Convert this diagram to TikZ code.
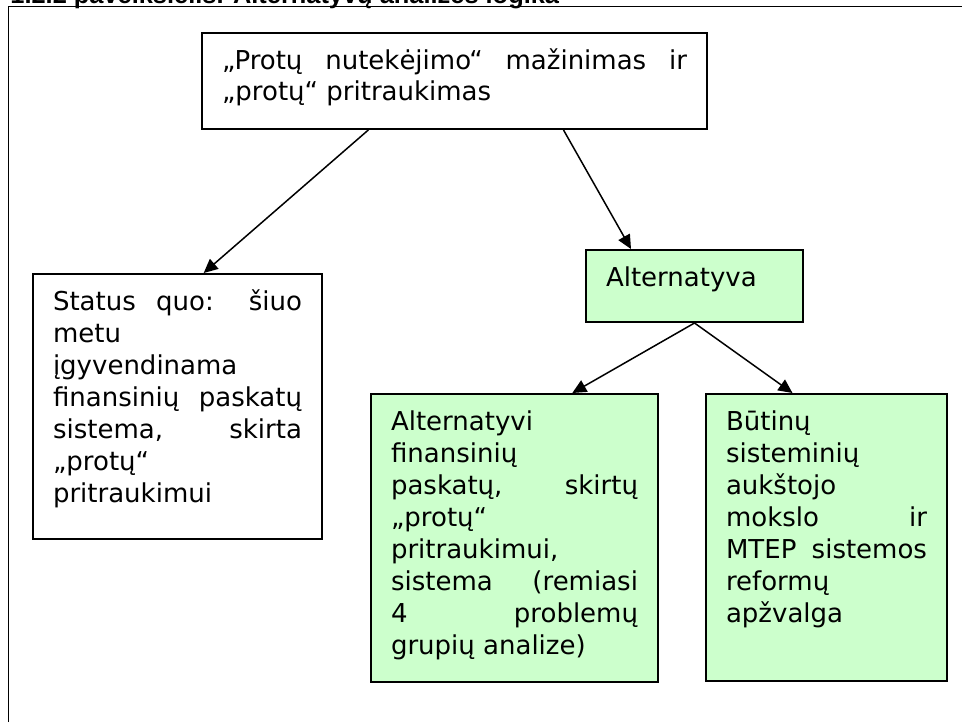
\documentclass[tikz,border=0pt]{standalone}
\usepackage{fontspec}
\setmainfont{DejaVu Sans}
\newfontfamily\titlefont{Liberation Sans}
\usetikzlibrary{arrows.meta,calc}
\definecolor{boxgreen}{HTML}{CCFFCC}
\newcommand{\boxtext}[3]{\parbox[t][#2][t]{#1}{\fontsize{13}{16}\selectfont
  \tolerance=10000\hyphenpenalty=10000\rule{0pt}{11pt}#3}}

\begin{document}
\begin{tikzpicture}[x=0.5pt,y=-0.5pt,
    box/.style={draw,line width=1pt,anchor=north west,inner xsep=10pt,inner ysep=7pt},
    greenbox/.style={box,fill=boxgreen},
    arr/.style={line width=0.75pt,-{Triangle[length=7pt,width=6.5pt]}}]
    \useasboundingbox (0,0) rectangle (962,722);
    \node[anchor=base west,inner sep=0,font=\titlefont\bfseries\fontsize{12.7}{15}\selectfont] (title) at (10,4) {1.2.2 paveikslėlis. Alternatyvų analizės logika};
    \draw[line width=0.5pt] (8,722) -- (8,7) -- (962,7);
    \node[box] (aim) at (201,32) {\boxtext{232.5pt}{34pt}{„Protų nutekėjimo“ mažinimas ir\linebreak „protų“ pritraukimas}};
    \node[box] (statusquo) at (32,273) {\boxtext{124.5pt}{118.5pt}{Status quo: šiuo\linebreak metu\linebreak įgyvendinama\linebreak finansinių paskatų\linebreak sistema, skirta\linebreak „protų“\linebreak pritraukimui}};
    \node[greenbox] (alt) at (585,249) {\boxtext{88.5pt}{22pt}{Alternatyva}};
    \node[greenbox] (altsystem) at (370,393) {\boxtext{123.5pt}{130pt}{Alternatyvi\linebreak finansinių\linebreak paskatų, skirtų\linebreak „protų“\linebreak pritraukimui,\linebreak sistema (remiasi\linebreak 4 problemų\linebreak grupių analize)}};
    \node[greenbox] (reforms) at (705,393) {\boxtext{100.5pt}{129.5pt}{Būtinų\linebreak sisteminių\linebreak aukštojo\linebreak mokslo ir\linebreak MTEP sistemos\linebreak reformų\linebreak apžvalga}};
    \draw[arr] ($(aim.south west)!.33!(aim.south east)$) -- ($(statusquo.north west)!.59!(statusquo.north east)$);
    \draw[arr] ($(aim.south west)!.715!(aim.south east)$) -- ($(alt.north west)!.21!(alt.north east)$);
    \draw[arr] (alt.south) -- ($(altsystem.north west)!.7!(altsystem.north east)$);
    \draw[arr] (alt.south) -- ($(reforms.north west)!.36!(reforms.north east)$);
\end{tikzpicture}
\end{document}
